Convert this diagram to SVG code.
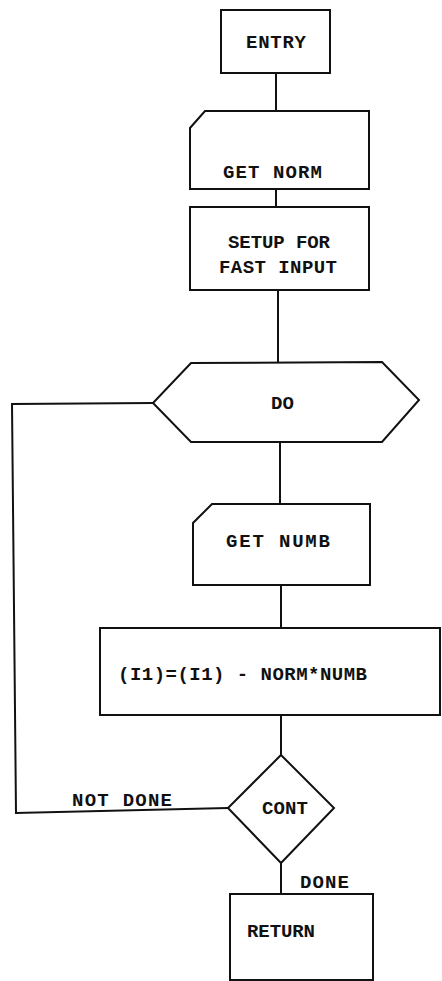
<svg xmlns="http://www.w3.org/2000/svg" width="442" height="981" viewBox="0 0 442 981">
<style>
.s{fill:#fff;stroke:#111;stroke-width:2;stroke-linejoin:miter}
.c{fill:none;stroke:#111;stroke-width:2}
text{font-family:"Liberation Mono","DejaVu Sans Mono",monospace;font-size:19px;font-weight:bold;fill:#111}
</style>
<rect width="442" height="981" fill="#fff"/>
<g id="connectors">
<line class="c" x1="276" y1="73" x2="276" y2="111"/>
<line class="c" x1="276" y1="189" x2="276" y2="207"/>
<line class="c" x1="278" y1="290" x2="278" y2="363"/>
<line class="c" x1="280" y1="442" x2="280" y2="504"/>
<line class="c" x1="281" y1="585" x2="281" y2="628"/>
<line class="c" x1="281" y1="715" x2="281" y2="755"/>
<line class="c" x1="281" y1="863" x2="281" y2="894"/>
<polyline class="c" points="153,403 12,404 16,813 228,808"/>
<text x="72" y="806" textLength="100" lengthAdjust="spacing">NOT DONE</text>
<text x="300" y="888" textLength="49" lengthAdjust="spacing">DONE</text>
</g>
<g id="entry">
<rect class="s" x="221" y="10" width="109" height="63"/>
<text x="246" y="48" textLength="60" lengthAdjust="spacing">ENTRY</text>
</g>
<g id="getnorm">
<path class="s" d="M205,111 L369,111 L369,189 L190,189 L190,128 Z"/>
<text x="223" y="178" textLength="99" lengthAdjust="spacing">GET NORM</text>
</g>
<g id="setup">
<rect class="s" x="190" y="207" width="179" height="83"/>
<text x="228" y="248" textLength="102" lengthAdjust="spacing">SETUP FOR</text>
<text x="219" y="273" textLength="118" lengthAdjust="spacing">FAST INPUT</text>
</g>
<g id="do">
<path class="s" d="M191,363 L382,362 L419,400 L382,442 L191,442 L153,403 Z"/>
<text x="271" y="409">DO</text>
</g>
<g id="getnumb">
<path class="s" d="M212,504 L370,504 L370,585 L193,585 L193,523 Z"/>
<text x="226" y="547" textLength="104" lengthAdjust="spacing">GET NUMB</text>
</g>
<g id="formula">
<rect class="s" x="100" y="628" width="340" height="87"/>
<text x="118" y="680" textLength="249" lengthAdjust="spacing">(I1)=(I1) - NORM*NUMB</text>
</g>
<g id="cont">
<path class="s" d="M281,755 L334,808 L281,863 L228,808 Z"/>
<text x="262" y="814" textLength="46" lengthAdjust="spacing">CONT</text>
</g>
<g id="return">
<rect class="s" x="230" y="894" width="143" height="86"/>
<text x="247" y="937" textLength="68" lengthAdjust="spacing">RETURN</text>
</g>
</svg>
